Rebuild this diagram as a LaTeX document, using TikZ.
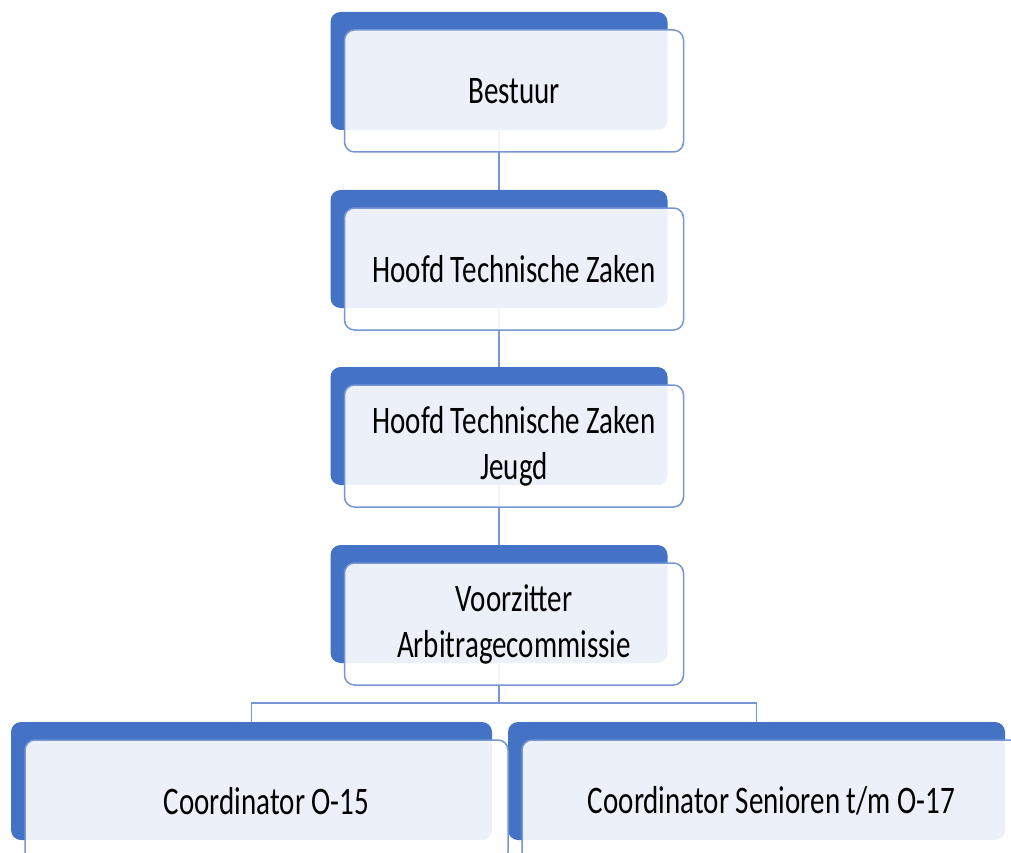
\documentclass[tikz,border=0pt]{standalone}
\usepackage{fontspec}
\setmainfont[FakeStretch=0.744]{Carlito}
\usetikzlibrary{backgrounds}
\definecolor{boxblue}{RGB}{68,114,196}
\definecolor{lineblue}{RGB}{118,150,212}

\begin{document}
\begin{tikzpicture}[x=1pt,y=-1pt,
  back/.style={fill=boxblue,rounded corners=10pt,minimum width=337pt,minimum height=118pt,inner sep=0pt},
  front/.style={draw=lineblue,line width=1.5pt,fill=white,fill opacity=0.9,text opacity=1,rounded corners=10pt,minimum width=339pt,minimum height=122pt,inner sep=0pt,align=center,font=\fontsize{39}{46}\selectfont},
  link/.style={draw=lineblue,line width=1.5pt}]
  \useasboundingbox (0,0) rectangle (1011,853);
  \clip (0,0) rectangle (1011,853);

  % back blocks
  \node[back] (back1) at (499,71) {};
  \node[back] (back2) at (499,249) {};
  \node[back] (back3) at (499,426) {};
  \node[back] (back4) at (499,604) {};
  \node[back,minimum width=481pt] (back5) at (251.5,781) {};
  \node[back,minimum width=497pt] (back6) at (756.5,781) {};

  % front blocks with the labels
  \node[front] (bestuur) at ([shift={(15,20)}]back1.center) {Bestuur};
  \node[front] (htz) at ([shift={(15,20)}]back2.center) {Hoofd Technische Zaken};
  \node[front] (htzj) at ([shift={(15,20)}]back3.center) {Hoofd Technische Zaken\\Jeugd};
  \node[front] (arbitrage) at ([shift={(15,20)}]back4.center) {Voorzitter\\Arbitragecommissie};
  \node[front,minimum width=483pt] (o15) at ([shift={(15,20)}]back5.center) {Coordinator O-15};
  \node[front,minimum width=499pt] (senioren) at ([shift={(15,20)}]back6.center) {Coordinator Senioren t/m O-17};

  \coordinate (bus) at (499,703);

  \begin{pgfonlayer}{background}
    \draw[link] (back1.south) -- (back2.north);
    \draw[link] (back2.south) -- (back3.north);
    \draw[link] (back3.south) -- (back4.north);
    \draw[link] (back4.south) -- (bus) -| (back5.north);
    \draw[link] (bus) -| (back6.north);
  \end{pgfonlayer}
\end{tikzpicture}
\end{document}
